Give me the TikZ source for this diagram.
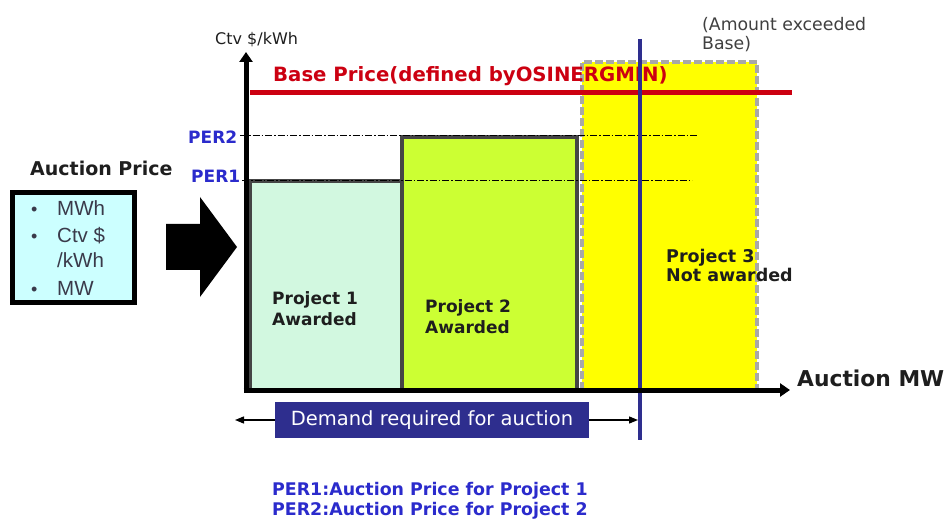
\documentclass[tikz,border=0pt]{standalone}
\usepackage{fontspec}
\setmainfont{DejaVu Sans}
\newfontfamily\arialf{Liberation Sans}
\usetikzlibrary{arrows.meta}
\definecolor{redline}{HTML}{CC0011}
\definecolor{navyline}{HTML}{2E2E8E}
\definecolor{bluetext}{HTML}{2B2BCC}
\definecolor{pone}{HTML}{D2F8E0}
\definecolor{ptwo}{HTML}{CCFF33}
\definecolor{pthree}{HTML}{FFFF00}
\definecolor{rimgray}{HTML}{454545}
\definecolor{dashgray}{HTML}{A8A8A8}
\definecolor{cyanbox}{HTML}{CCFFFF}
\definecolor{bullettext}{HTML}{3A3A4A}
\definecolor{darktext}{HTML}{1E1E1E}
\tikzset{
  lbl/.style={inner sep=0pt, anchor=base west},
  boldlbl/.style={lbl, font=\bfseries\fontsize{17}{20}\selectfont, text=darktext},
  perlbl/.style={lbl, font=\bfseries\fontsize{17}{20}\selectfont, text=bluetext},
  bullet/.style={lbl, font=\arialf\fontsize{20.5}{22}\selectfont, text=bullettext},
  projbox/.style={fill=#1, draw=rimgray, line width=3.5pt},
  dashdotline/.style={line width=1pt, dash pattern=on 7pt off 2pt on 1.5pt off 2pt},
  axis/.style={line width=5pt, -{Triangle[length=10pt,width=13pt]}},
  thinarrow/.style={line width=1.3pt, -{Triangle[length=9pt,width=7pt]}}
}
\begin{document}
\begin{tikzpicture}[x=1pt,y=-1pt]
\useasboundingbox (0,0) rectangle (949,526);
\fill[white] (0,0) rectangle (949,526);

% project bars
\filldraw[projbox=pone] (250,181) rectangle (402,390);
\filldraw[projbox=ptwo] (402,137) rectangle (577,390);
\fill[pthree] (582,62) rectangle (757,390);
\draw[dashgray, line width=4pt, dash pattern=on 8pt off 3pt] (582,390) -- (582,62) -- (757,62) -- (757,390);

% price levels
\coordinate (per2s) at (240,136);
\coordinate (per2e) at (697,136);
\coordinate (per1s) at (242,181);
\coordinate (per1e) at (692,181);
\draw[dashdotline] (per2s) -- (per2e);
\draw[dashdotline] (per1s) -- (per1e);
\coordinate (bases) at (250,93);
\coordinate (basee) at (792,93);
\draw[redline, line width=5pt] (bases) -- (basee);

% texts in chart
\node[lbl, font=\bfseries\fontsize{19.7}{22}\selectfont, text=redline] (basetxt) at (273,82) {Base Price(defined byOSINERGMIN)};
\node[lbl, font=\fontsize{16}{18}\selectfont, text=darktext] (ylab) at (215,45) {Ctv \$/kWh};
\node[perlbl] (per2) at (188,144) {PER2};
\node[perlbl] (per1) at (191,183) {PER1};
\node[boldlbl] (p1a) at (272,305) {Project 1};
\node[boldlbl] (p1b) at (272,325) {Awarded};
\node[boldlbl] (p2a) at (425,312) {Project 2};
\node[boldlbl] (p2b) at (425,333) {Awarded};
\node[boldlbl, font=\bfseries\fontsize{17.5}{20}\selectfont] (p3a) at (666,262) {Project 3};
\node[boldlbl, font=\bfseries\fontsize{17.5}{20}\selectfont] (p3b) at (666,282) {Not awarded};
\node[lbl, font=\fontsize{17.3}{20}\selectfont, text=darktext!85] (amt1) at (702,31) {(Amount exceeded};
\node[lbl, font=\fontsize{17.3}{20}\selectfont, text=darktext!85] (amt2) at (702,50) {Base)};

% demand line
\coordinate (demtop) at (640,39);
\coordinate (dembot) at (640,440);
\draw[navyline, line width=4pt] (demtop) -- (dembot);

% axes
\coordinate (origin) at (246,390);
\coordinate (ytip) at (246,52);
\coordinate (xtip) at (790,390);
\draw[axis] (246,392.5) -- (ytip);
\draw[axis] (243.5,390) -- (xtip);
\node[lbl, font=\bfseries\fontsize{21.8}{26}\selectfont, text=darktext] (xlab) at (797,386) {Auction MW};

% demand box
\node[fill=navyline, text=white, minimum width=314pt, minimum height=36pt, inner sep=0pt,
      font=\fontsize{19.5}{22}\selectfont] (demand) at (432,420) {Demand required for auction};
\coordinate (dl) at (235,420);
\coordinate (dr) at (638,420);
\draw[thinarrow] (demand.west) -- (dl);
\draw[thinarrow] (demand.east) -- (dr);

% left side
\node[boldlbl, font=\bfseries\fontsize{19}{22}\selectfont] (aptitle) at (30,176) {Auction Price};
\node[draw=black, line width=5pt, fill=cyanbox, minimum width=122pt, minimum height=110pt, inner sep=0pt] (pricebox) at (73.5,247.5) {};
\node[bullet, font=\arialf\fontsize{18}{22}\selectfont] (bu1) at (31,216) {•};
\node[bullet] (bt1) at (57,216) {MWh};
\node[bullet, font=\arialf\fontsize{18}{22}\selectfont] (bu2) at (31,243) {•};
\node[bullet] (bt2) at (57,243) {Ctv \$};
\node[bullet] (bt3) at (57,268) {/kWh};
\node[bullet, font=\arialf\fontsize{18}{22}\selectfont] (bu4) at (31,295) {•};
\node[bullet] (bt4) at (57,295) {MW};
\fill[black] (166,224) -- (200,224) -- (200,197) -- (237,247) -- (200,297) -- (200,270) -- (166,270) -- cycle;

% legend
\node[perlbl, font=\bfseries\fontsize{17.4}{20}\selectfont] (leg1) at (272,495) {PER1:Auction Price for Project 1};
\node[perlbl, font=\bfseries\fontsize{17.4}{20}\selectfont] (leg2) at (272,515) {PER2:Auction Price for Project 2};
\end{tikzpicture}
\end{document}
